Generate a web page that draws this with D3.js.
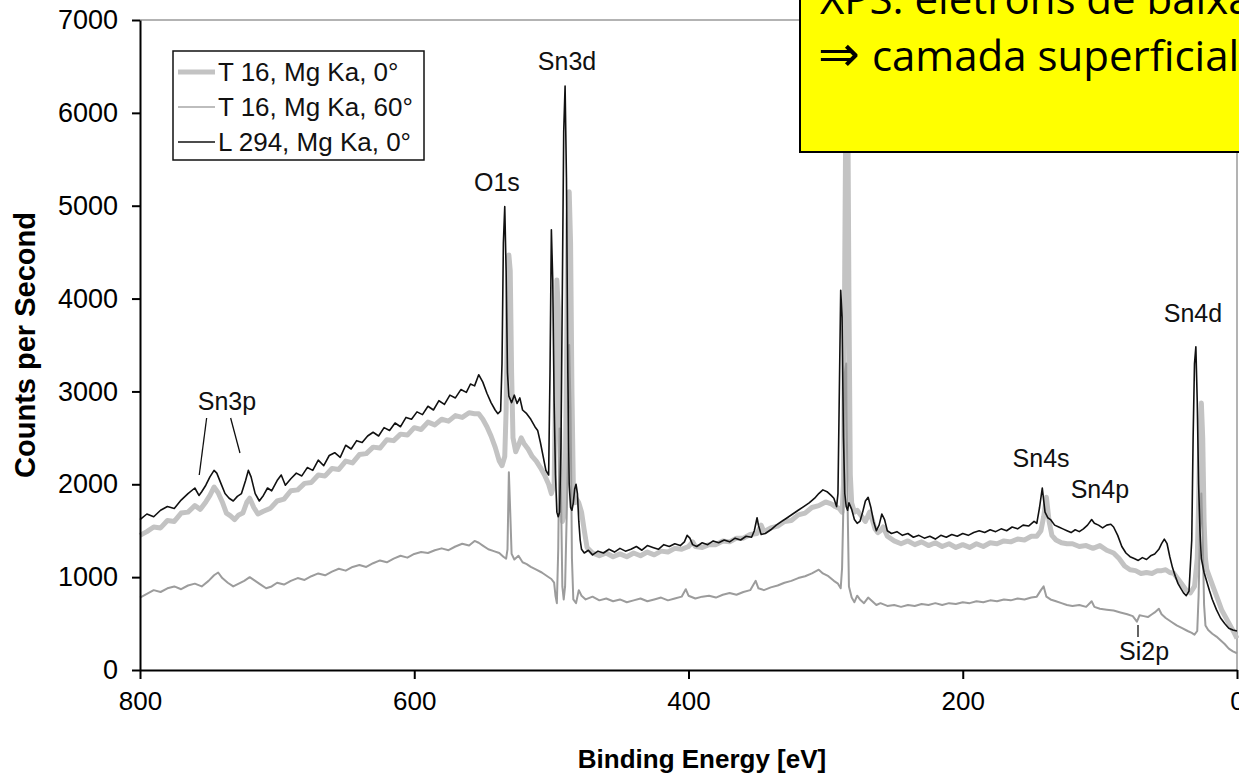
<!DOCTYPE html>
<html>
<head>
<meta charset="utf-8">
<script src="https://cdn.jsdelivr.net/npm/d3@7"></script>
<style>
  body { margin: 0; background: #fff; }
  svg { display: block; }
</style>
</head>
<body>
<script>
// spectra: [binding energy eV, counts per second]
var surveyT16at0 = [
  [800,1450],[795,1490],[790,1540],[785,1530],[780,1610],[775,1600],[770,1690],[765,1700],[760,1770],[756,1730],
  [752,1810],[749,1880],[746,1970],[743,1910],[740,1810],[737,1690],[734,1660],[731,1620],[728,1670],[725,1690],
  [722,1810],[720,1850],[717,1750],[714,1680],[710,1710],[705,1740],[700,1820],[695,1840],[690,1930],[685,1940],
  [680,2010],[675,2020],[670,2100],[665,2090],[660,2170],[655,2160],[650,2250],[645,2230],[640,2320],[635,2330],
  [630,2400],[625,2390],[620,2480],[615,2470],[610,2540],[605,2530],[600,2610],[595,2590],[590,2670],[585,2640],
  [580,2700],[575,2680],[570,2740],[565,2720],[560,2770],[556,2760],[553,2760],[550,2700],[547,2620],[544,2520],
  [541,2400],[538,2250],[536,2200],[534,2300],[533,2800],[532,3800],[531,4470],[530,4300],[529,3200],[528,2500],
  [526,2350],[524,2420],[522,2500],[520,2440],[517,2380],[514,2300],[511,2250],[508,2180],[505,2100],[502,2000],
  [500,1900],[498,2000],[497,3000],[496,4200],[495,3900],[494,2600],[493,1800],[492,1600],[491,1650],[490,1900],
  [489,3200],[488,4800],[487,5150],[486,4600],[485,3000],[484,2000],[483,1800],[482,1850],[480,1800],[478,1700],
  [476,1500],[474,1320],[470,1260],[465,1230],[460,1260],[455,1220],[450,1250],[445,1220],[440,1260],[435,1230],
  [430,1270],[425,1240],[420,1280],[415,1270],[410,1310],[405,1300],[400,1330],[397,1380],[395,1330],[390,1320],
  [385,1350],[380,1350],[375,1390],[370,1380],[365,1420],[360,1420],[355,1460],[350,1470],[347,1560],[345,1490],
  [340,1530],[335,1550],[330,1600],[325,1610],[320,1670],[315,1690],[310,1750],[305,1770],[300,1810],[296,1790],
  [293,1760],[290,1740],[288,1700],[287,2000],[286,4500],[285,6600],[284,6600],[283,4000],[282,2100],[281,1800],
  [279,1700],[277,1720],[275,1680],[273,1640],[271,1600],[268,1700],[266,1620],[264,1520],[262,1480],[260,1500],
  [258,1540],[255,1440],[250,1390],[245,1360],[240,1390],[235,1350],[230,1380],[225,1340],[220,1370],[215,1330],
  [210,1360],[205,1320],[200,1350],[195,1320],[190,1360],[185,1330],[180,1370],[175,1360],[170,1390],[165,1380],
  [160,1410],[155,1400],[150,1440],[146,1440],[143,1500],[141,1650],[139,1860],[137,1600],[135,1450],[132,1400],
  [128,1370],[124,1360],[120,1360],[115,1330],[110,1340],[105,1310],[100,1340],[95,1290],[90,1260],[86,1200],
  [82,1120],[78,1080],[74,1070],[70,1040],[66,1050],[62,1040],[58,1070],[55,1070],[52,1080],[49,1050],
  [46,1040],[43,980],[40,920],[37,860],[34,830],[31,900],[29,1200],[28,1800],[27,2600],[26,2875],
  [25,2500],[24,1600],[23,1200],[22,1080],[20,1000],[17,880],[14,760],[11,640],[8,560],[5,480],
  [2,400],[0,340]
];

var surveyT16at60 = [
  [800,780],[795,820],[790,860],[785,840],[780,880],[775,900],[770,870],[765,910],[760,930],[755,900],
  [750,960],[746,1020],[743,1050],[740,990],[736,940],[732,900],[728,930],[724,960],[720,1000],[716,960],
  [712,920],[708,880],[704,900],[700,940],[695,920],[690,960],[685,990],[680,970],[675,1010],[670,1040],
  [665,1020],[660,1060],[655,1090],[650,1070],[645,1110],[640,1130],[635,1110],[630,1150],[625,1180],[620,1160],
  [615,1200],[610,1230],[605,1210],[600,1250],[595,1270],[590,1260],[585,1290],[580,1310],[575,1290],[570,1330],
  [565,1360],[560,1340],[556,1390],[553,1370],[550,1340],[546,1300],[542,1280],[538,1260],[535,1220],[533,1200],
  [532,1300],[531,2130],[530,1700],[529,1250],[527,1190],[524,1230],[521,1160],[518,1140],[515,1110],[511,1080],
  [507,1050],[503,1010],[500,980],[498,940],[497,800],[496,720],[495,1300],[494,2600],[493,1900],[492,900],
  [491,760],[490,900],[488,2200],[487,3500],[486,2800],[485,1200],[484,760],[482,720],[480,860],[478,800],
  [475,760],[470,790],[465,750],[460,770],[455,740],[450,760],[445,730],[440,750],[435,770],[430,740],
  [425,760],[420,780],[415,750],[410,770],[405,790],[402,870],[400,800],[395,770],[390,790],[385,800],
  [380,780],[375,810],[370,830],[365,810],[360,840],[355,860],[351,960],[349,880],[345,860],[340,890],
  [335,910],[330,940],[325,960],[320,990],[315,1010],[310,1040],[305,1080],[302,1040],[298,1010],[294,960],
  [291,930],[289,880],[288,1100],[287,1800],[286,3200],[285,3300],[284,1800],[283,900],[281,780],[279,730],
  [277,800],[275,760],[272,720],[269,780],[266,740],[263,700],[260,720],[255,690],[250,700],[245,680],
  [240,700],[235,690],[230,710],[225,700],[220,720],[215,700],[210,720],[205,710],[200,730],[195,720],
  [190,740],[185,730],[180,750],[175,740],[170,760],[165,750],[160,770],[155,760],[150,780],[146,790],
  [143,860],[141,900],[139,790],[136,760],[132,740],[128,720],[124,700],[120,690],[115,700],[110,680],
  [106,740],[104,680],[100,660],[95,650],[90,640],[85,620],[80,600],[76,580],[73,520],[71,590],
  [68,580],[65,570],[62,600],[60,620],[57,660],[55,600],[52,560],[48,520],[44,480],[40,450],
  [36,420],[33,400],[31,380],[29,420],[28,800],[27,1500],[26,1900],[25,1400],[24,700],[23,480],
  [21,430],[18,390],[15,360],[12,320],[9,280],[6,230],[3,200],[0,180]
];

var surveyL294at0 = [
  [800,1620],[795,1680],[790,1650],[785,1720],[780,1760],[775,1740],[770,1830],[765,1900],[760,1960],[757,1880],
  [755,1920],[752,1990],[749,2080],[746,2150],[744,2120],[741,2010],[738,1900],[735,1850],[732,1820],[729,1870],
  [726,1900],[723,2040],[721,2150],[719,2080],[716,1900],[713,1820],[710,1880],[707,1960],[704,1930],[700,2040],
  [697,2100],[694,1990],[690,2060],[686,2120],[682,2090],[678,2180],[674,2150],[670,2260],[666,2200],[662,2310],
  [658,2340],[654,2290],[650,2420],[646,2380],[642,2470],[638,2450],[634,2520],[630,2560],[626,2520],[622,2610],
  [618,2580],[614,2660],[610,2620],[606,2720],[602,2700],[598,2780],[594,2750],[590,2840],[586,2800],[582,2900],
  [578,2860],[574,2960],[570,2930],[566,3020],[562,2990],[559,3080],[556,3060],[553,3180],[550,3100],[547,2980],
  [544,2880],[541,2800],[539,2760],[537,2790],[536,3300],[535,4600],[534,4990],[533,4300],[532,3200],[531,2950],
  [529,2880],[527,2960],[525,2870],[523,2930],[521,2800],[518,2760],[515,2700],[512,2620],[510,2580],[508,2450],
  [506,2300],[504,2150],[502,2100],[501,3200],[500,4740],[499,4200],[498,2900],[497,2100],[496,1700],[495,1650],
  [494,1700],[493,2400],[492,4100],[491,5800],[490,6290],[489,5300],[488,3200],[487,2000],[486,1750],[485,1720],
  [484,1800],[483,1950],[482,2000],[481,1900],[480,1600],[479,1400],[478,1300],[476,1260],[473,1290],[470,1240],
  [466,1280],[462,1260],[458,1300],[454,1270],[450,1310],[446,1280],[442,1300],[438,1330],[434,1290],[430,1340],
  [426,1320],[422,1300],[418,1350],[414,1330],[410,1360],[406,1340],[403,1380],[401,1450],[399,1420],[397,1350],
  [394,1330],[390,1370],[386,1350],[382,1390],[378,1370],[374,1400],[370,1380],[366,1420],[362,1400],[358,1440],
  [354,1430],[352,1500],[350,1640],[349,1560],[347,1460],[344,1470],[340,1510],[336,1560],[332,1600],[328,1640],
  [324,1680],[320,1720],[316,1760],[312,1800],[308,1850],[305,1900],[302,1940],[299,1920],[296,1880],[294,1850],
  [292,1760],[291,1900],[290,3000],[289,4090],[288,3800],[287,2500],[286,1900],[285,1760],[284,1720],[283,1800],
  [281,1730],[279,1620],[277,1580],[275,1600],[273,1700],[271,1820],[269,1860],[267,1750],[265,1600],[263,1500],
  [261,1560],[259,1680],[257,1620],[255,1500],[252,1470],[248,1490],[244,1450],[240,1470],[236,1430],[232,1450],
  [228,1420],[224,1440],[220,1410],[216,1450],[212,1430],[208,1460],[204,1440],[200,1470],[196,1450],[192,1480],
  [188,1500],[184,1480],[180,1510],[176,1490],[172,1520],[168,1500],[164,1540],[160,1520],[156,1560],[152,1550],
  [148,1600],[146,1580],[144,1750],[142,1960],[140,1700],[138,1640],[136,1620],[133,1560],[130,1540],[127,1520],
  [124,1500],[121,1480],[118,1510],[115,1490],[112,1520],[109,1560],[106,1620],[104,1580],[101,1560],[98,1530],
  [95,1560],[92,1570],[90,1540],[87,1450],[84,1330],[81,1260],[78,1220],[75,1200],[72,1180],[69,1210],
  [66,1190],[63,1230],[60,1250],[57,1300],[55,1360],[53,1410],[51,1360],[49,1220],[47,1100],[45,1010],
  [43,930],[41,880],[39,830],[37,800],[35,850],[33,1400],[32,2500],[31,3300],[30,3480],[29,2900],
  [28,2000],[27,1500],[26,1200],[24,1050],[22,950],[20,850],[18,760],[15,650],[12,560],[9,500],
  [6,450],[3,430],[0,420]
];

var seriesNames = ["T 16, Mg Ka, 0\u00b0", "T 16, Mg Ka, 60\u00b0", "L 294, Mg Ka, 0\u00b0"];
var xTicks = [800, 600, 400, 200, 0];
var yTicks = [0, 1000, 2000, 3000, 4000, 5000, 6000, 7000];

// peak labels: [text, eV, cps]
var peakLabels = [
  ["Sn3d", 488.6, 6460], ["O1s", 539.7, 5158], ["Sn3p", 736.6, 2800],
  ["Sn4d", 32.1, 3748], ["Sn4s", 142.9, 2186], ["Sn4p", 100, 1852], ["Si2p", 67.8, 108]
];
// leader lines: [eV1, cps1, eV2, cps2]
var leaders = [
  [751.4, 2714, 756.8, 2100], [733.9, 2714, 727.1, 2337], [72.2, 485, 72.2, 355]
];

var noteLines = ["XPS: el\u00e9trons de baixa", "camada superficial"];

var w = 1239, h = 779;
var plotL = 140, plotR = 1237, plotT = 20, plotB = 670;

var svg = d3.select("body").append("svg")
    .attr("width", w)
    .attr("height", h);

svg.append("rect").attr("width", w).attr("height", h).attr("fill", "#fff");

var x = d3.scaleLinear().domain([800, 0]).range([plotL, plotR]);
var y = d3.scaleLinear().domain([0, 7000]).range([plotB, plotT]);

// frame top / right
svg.append("line").attr("x1", plotL).attr("x2", plotR).attr("y1", plotT).attr("y2", plotT)
    .attr("stroke", "#9a9a9a").attr("stroke-width", 1.5);
svg.append("line").attr("x1", plotR).attr("x2", plotR).attr("y1", plotT).attr("y2", plotB)
    .attr("stroke", "#9a9a9a").attr("stroke-width", 1.5);

var line = d3.line()
    .x(function(d) { return x(d[0]); })
    .y(function(d) { return y(d[1]); });

var styles = [
  { data: surveyT16at0, color: "#c3c3c3", width: 5 },
  { data: surveyT16at60, color: "#9c9c9c", width: 2 },
  { data: surveyL294at0, color: "#111", width: 1.6 }
];

styles.forEach(function(s) {
  svg.append("path")
      .datum(s.data)
      .attr("fill", "none")
      .attr("stroke", s.color)
      .attr("stroke-width", s.width)
      .attr("stroke-linejoin", "round")
      .attr("d", line);
});

// axes
var xAxis = svg.append("g")
    .attr("transform", "translate(0," + plotB + ")")
    .call(d3.axisBottom(x).tickValues(xTicks).tickSize(9).tickPadding(13).tickSizeOuter(0));
var yAxis = svg.append("g")
    .attr("transform", "translate(" + plotL + ",0)")
    .call(d3.axisLeft(y).tickValues(yTicks).tickFormat(d3.format("d"))
      .tickSize(8).tickPadding(14).tickSizeOuter(0));

[xAxis, yAxis].forEach(function(a) {
  a.select(".domain").attr("stroke", "#000").attr("stroke-width", 2);
  a.selectAll(".tick line").attr("stroke", "#000").attr("stroke-width", 2);
  a.selectAll("text")
      .attr("fill", "#000")
      .style("font-family", "'Liberation Sans', Arial, sans-serif")
      .style("font-size", "26px");
});
yAxis.selectAll("text").style("font-size", "27px");

svg.append("text")
    .attr("x", 702)
    .attr("y", 768)
    .attr("text-anchor", "middle")
    .style("font-family", "'Liberation Sans', Arial, sans-serif")
    .style("font-size", "26px")
    .style("font-weight", "bold")
    .text("Binding Energy [eV]");

svg.append("text")
    .attr("transform", "translate(35," + (plotT + plotB) / 2 + ") rotate(-90)")
    .attr("text-anchor", "middle")
    .style("font-family", "'Liberation Sans', Arial, sans-serif")
    .style("font-size", "29px")
    .style("font-weight", "bold")
    .text("Counts per Second");

// peak labels
svg.selectAll(".peak")
    .data(peakLabels)
    .enter()
    .append("text")
    .attr("class", "peak")
    .attr("x", function(d) { return x(d[1]); })
    .attr("y", function(d) { return y(d[2]); })
    .attr("text-anchor", "middle")
    .attr("fill", "#111")
    .style("font-family", "'Liberation Sans', Arial, sans-serif")
    .style("font-size", "25px")
    .text(function(d) { return d[0]; });

svg.selectAll(".leader")
    .data(leaders)
    .enter()
    .append("line")
    .attr("class", "leader")
    .attr("x1", function(d) { return x(d[0]); })
    .attr("y1", function(d) { return y(d[1]); })
    .attr("x2", function(d) { return x(d[2]); })
    .attr("y2", function(d) { return y(d[3]); })
    .attr("stroke", "#111")
    .attr("stroke-width", 1.3);

// legend
var legend = svg.append("g");
legend.append("rect")
    .attr("x", 173).attr("y", 51).attr("width", 251).attr("height", 109)
    .attr("fill", "#fff").attr("stroke", "#111").attr("stroke-width", 1.5);

var rows = legend.selectAll(".row")
    .data(styles)
    .enter()
    .append("g")
    .attr("class", "row")
    .attr("transform", function(d, i) { return "translate(0," + (72 + i * 35) + ")"; });

rows.append("line")
    .attr("x1", 178).attr("x2", 215)
    .attr("stroke", function(d, i) { return i == 1 ? "#bdbdbd" : d.color; })
    .attr("stroke-width", function(d, i) { return i == 0 ? 5 : (i == 1 ? 2 : 1.6); });

rows.append("text")
    .attr("x", 218)
    .attr("dy", "0.35em")
    .attr("fill", "#111")
    .style("font-family", "'Liberation Sans', Arial, sans-serif")
    .style("font-size", "26px")
    .text(function(d, i) { return seriesNames[i]; });

// yellow note box (runs off the top / right edge)
svg.append("rect")
    .attr("x", 800).attr("y", -10).attr("width", 500).attr("height", 162)
    .attr("fill", "#ffff00").attr("stroke", "#000").attr("stroke-width", 2);

var noteFont = "'Open Sans', 'DejaVu Sans', sans-serif";
svg.append("text")
    .attr("x", 820).attr("y", 14)
    .style("font-family", noteFont).style("font-size", "42px")
    .text(noteLines[0]);

var note2 = svg.append("text")
    .attr("x", 818).attr("y", 71)
    .style("font-family", noteFont).style("font-size", "42px");
note2.append("tspan").style("font-family", "'DejaVu Sans', sans-serif").style("font-size", "50px").text("\u21d2");
note2.append("tspan").attr("dx", 12).text(noteLines[1]);
</script>
</body>
</html>
